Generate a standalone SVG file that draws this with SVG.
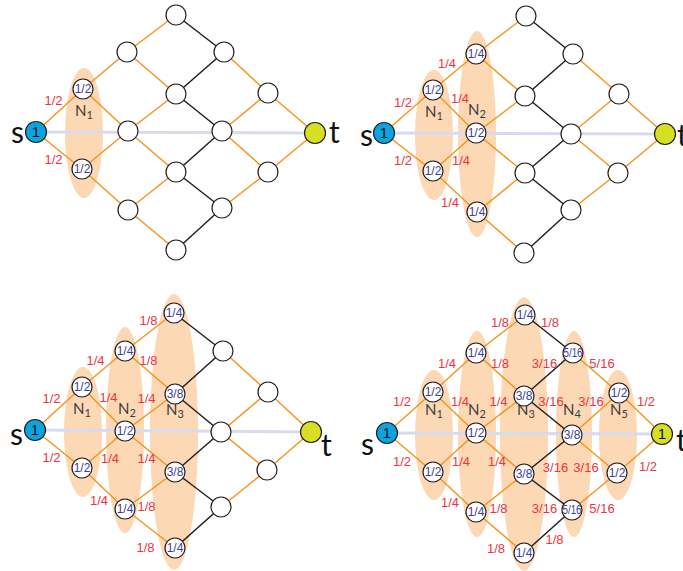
<svg xmlns="http://www.w3.org/2000/svg" width="683" height="571" viewBox="0 0 683 571">
<style>
.reg{fill:#fcd8b4}
.base{stroke:#d8dbee;stroke-width:3}
.o{stroke:#f7941d;stroke-width:1.5}
.k{stroke:#231f20;stroke-width:1.5}
.n{fill:#fff;stroke:#231f20;stroke-width:1.2}
.src{fill:#0aa5e0;stroke:#231f20;stroke-width:1.2}
.snk{fill:#d7df23;stroke:#231f20;stroke-width:1.2}
.nl{font-family:"Liberation Sans",Arial,sans-serif;font-size:12px;fill:#3b40a0;text-anchor:middle}
.one{font-family:"Liberation Sans",Arial,sans-serif;font-size:15px;fill:#111;text-anchor:middle}
.el{font-family:"Liberation Sans",Arial,sans-serif;font-size:13px;fill:#ee3444;text-anchor:middle}
.N{font-family:Lato,"Liberation Sans",sans-serif;font-size:15px;fill:#3d3d3d}
.st{font-family:Lato,"Liberation Sans",sans-serif;font-size:30px;fill:#111}
</style>
<g id="regions">
<ellipse class="reg" cx="84" cy="133" rx="19" ry="65"/>
<ellipse class="reg" cx="434" cy="135" rx="19" ry="65"/>
<ellipse class="reg" cx="477" cy="134" rx="19" ry="103"/>
<ellipse class="reg" cx="83" cy="432" rx="19" ry="65"/>
<ellipse class="reg" cx="125" cy="430" rx="19" ry="103"/>
<ellipse class="reg" cx="174" cy="432" rx="24" ry="138"/>
<ellipse class="reg" cx="434" cy="435" rx="19" ry="65"/>
<ellipse class="reg" cx="477" cy="434" rx="19" ry="103"/>
<ellipse class="reg" cx="524" cy="434" rx="24" ry="137"/>
<ellipse class="reg" cx="574" cy="434" rx="18" ry="103"/>
<ellipse class="reg" cx="618" cy="435" rx="19" ry="65"/>
</g>
<g id="connectors">
<line class="base" x1="36" y1="132" x2="315" y2="133"/>
<line class="base" x1="384" y1="133" x2="665" y2="134"/>
<line class="base" x1="35" y1="430" x2="311" y2="432"/>
<line class="base" x1="387" y1="433" x2="662" y2="434"/>
<!-- panel 1 -->
<line class="o" x1="36" y1="132" x2="83" y2="89"/><line class="o" x1="36" y1="132" x2="82" y2="169"/>
<line class="o" x1="83" y1="89" x2="127" y2="52"/><line class="o" x1="83" y1="89" x2="128" y2="131"/>
<line class="o" x1="82" y1="169" x2="128" y2="131"/><line class="o" x1="82" y1="169" x2="128" y2="210"/>
<line class="o" x1="127" y1="52" x2="176" y2="15"/><line class="o" x1="127" y1="52" x2="176" y2="94"/>
<line class="o" x1="128" y1="131" x2="176" y2="94"/><line class="o" x1="128" y1="131" x2="176" y2="172"/>
<line class="o" x1="128" y1="210" x2="176" y2="172"/><line class="o" x1="128" y1="210" x2="176" y2="250"/>
<line class="k" x1="176" y1="15" x2="224" y2="52"/><line class="k" x1="176" y1="94" x2="224" y2="52"/>
<line class="k" x1="176" y1="94" x2="222" y2="131"/><line class="k" x1="176" y1="172" x2="222" y2="131"/>
<line class="k" x1="176" y1="172" x2="222" y2="208"/><line class="k" x1="176" y1="250" x2="222" y2="208"/>
<line class="o" x1="224" y1="52" x2="268" y2="93"/><line class="o" x1="222" y1="131" x2="268" y2="93"/>
<line class="o" x1="222" y1="131" x2="268" y2="172"/><line class="o" x1="222" y1="208" x2="268" y2="172"/>
<line class="o" x1="268" y1="93" x2="315" y2="133"/><line class="o" x1="268" y1="172" x2="315" y2="133"/>
<!-- panel 2 -->
<line class="o" x1="384" y1="133" x2="433" y2="90"/><line class="o" x1="384" y1="133" x2="433" y2="171"/>
<line class="o" x1="433" y1="90" x2="476" y2="54"/><line class="o" x1="433" y1="90" x2="476" y2="133"/>
<line class="o" x1="433" y1="171" x2="476" y2="133"/><line class="o" x1="433" y1="171" x2="477" y2="212"/>
<line class="o" x1="476" y1="54" x2="526" y2="16"/><line class="o" x1="476" y1="54" x2="525" y2="96"/>
<line class="o" x1="476" y1="133" x2="525" y2="96"/><line class="o" x1="476" y1="133" x2="525" y2="173"/>
<line class="o" x1="477" y1="212" x2="525" y2="173"/><line class="o" x1="477" y1="212" x2="524" y2="253"/>
<line class="k" x1="526" y1="16" x2="573" y2="54"/><line class="k" x1="525" y1="96" x2="573" y2="54"/>
<line class="k" x1="525" y1="96" x2="571" y2="134"/><line class="k" x1="525" y1="173" x2="571" y2="134"/>
<line class="k" x1="525" y1="173" x2="571" y2="210"/><line class="k" x1="524" y1="253" x2="571" y2="210"/>
<line class="o" x1="573" y1="54" x2="619" y2="94"/><line class="o" x1="571" y1="134" x2="619" y2="94"/>
<line class="o" x1="571" y1="134" x2="618" y2="173"/><line class="o" x1="571" y1="210" x2="618" y2="173"/>
<line class="o" x1="619" y1="94" x2="665" y2="134"/><line class="o" x1="618" y1="173" x2="665" y2="134"/>
<!-- panel 3 -->
<line class="o" x1="35" y1="430" x2="82" y2="387"/><line class="o" x1="35" y1="430" x2="82" y2="468"/>
<line class="o" x1="82" y1="387" x2="125" y2="351"/><line class="o" x1="82" y1="387" x2="125" y2="431"/>
<line class="o" x1="82" y1="468" x2="125" y2="431"/><line class="o" x1="82" y1="468" x2="125" y2="509"/>
<line class="o" x1="125" y1="351" x2="174" y2="313"/><line class="o" x1="125" y1="351" x2="175" y2="394"/>
<line class="o" x1="125" y1="431" x2="175" y2="394"/><line class="o" x1="125" y1="431" x2="175" y2="472"/>
<line class="o" x1="125" y1="509" x2="175" y2="472"/><line class="o" x1="125" y1="509" x2="175" y2="548"/>
<line class="k" x1="174" y1="313" x2="223" y2="351"/><line class="k" x1="175" y1="394" x2="223" y2="351"/>
<line class="k" x1="175" y1="394" x2="221" y2="432"/><line class="k" x1="175" y1="472" x2="221" y2="432"/>
<line class="k" x1="175" y1="472" x2="221" y2="507"/><line class="k" x1="175" y1="548" x2="221" y2="507"/>
<line class="o" x1="223" y1="351" x2="268" y2="392"/><line class="o" x1="221" y1="432" x2="268" y2="392"/>
<line class="o" x1="221" y1="432" x2="267" y2="470"/><line class="o" x1="221" y1="507" x2="267" y2="470"/>
<line class="o" x1="268" y1="392" x2="311" y2="432"/><line class="o" x1="267" y1="470" x2="311" y2="432"/>
<!-- panel 4 -->
<line class="o" x1="387" y1="433" x2="433" y2="392"/><line class="o" x1="387" y1="433" x2="433" y2="472"/>
<line class="o" x1="433" y1="392" x2="476" y2="353"/><line class="o" x1="433" y1="392" x2="476" y2="433"/>
<line class="o" x1="433" y1="472" x2="476" y2="433"/><line class="o" x1="433" y1="472" x2="476" y2="512"/>
<line class="o" x1="476" y1="353" x2="525" y2="315"/><line class="o" x1="476" y1="353" x2="524" y2="396"/>
<line class="o" x1="476" y1="433" x2="524" y2="396"/><line class="o" x1="476" y1="433" x2="524" y2="474"/>
<line class="o" x1="476" y1="512" x2="524" y2="474"/><line class="o" x1="476" y1="512" x2="524" y2="553"/>
<line class="k" x1="525" y1="315" x2="573" y2="353"/><line class="k" x1="524" y1="396" x2="573" y2="353"/>
<line class="k" x1="524" y1="396" x2="572" y2="435"/><line class="k" x1="524" y1="474" x2="572" y2="435"/>
<line class="k" x1="524" y1="474" x2="572" y2="510"/><line class="k" x1="524" y1="553" x2="572" y2="510"/>
<line class="o" x1="573" y1="353" x2="619" y2="393"/><line class="o" x1="572" y1="435" x2="619" y2="393"/>
<line class="o" x1="572" y1="435" x2="617" y2="473"/><line class="o" x1="572" y1="510" x2="617" y2="473"/>
<line class="o" x1="619" y1="393" x2="662" y2="434"/><line class="o" x1="617" y1="473" x2="662" y2="434"/>
</g>
<g id="edge-labels">
<text class="el" x="53.5" y="105">1/2</text><text class="el" x="53.5" y="164">1/2</text>
<text class="el" x="403" y="107">1/2</text><text class="el" x="447" y="68">1/4</text><text class="el" x="460" y="103">1/4</text>
<text class="el" x="403" y="165">1/2</text><text class="el" x="461" y="165">1/4</text><text class="el" x="450" y="207">1/4</text>
<text class="el" x="148.5" y="325">1/8</text><text class="el" x="95.5" y="365">1/4</text><text class="el" x="148.5" y="365">1/8</text>
<text class="el" x="51.5" y="403">1/2</text><text class="el" x="108.5" y="402">1/4</text><text class="el" x="146.5" y="403">1/4</text>
<text class="el" x="51.5" y="462">1/2</text><text class="el" x="110" y="463">1/4</text><text class="el" x="146.5" y="463">1/4</text>
<text class="el" x="99" y="505">1/4</text><text class="el" x="146.5" y="511">1/8</text><text class="el" x="145.5" y="552">1/8</text>
<text class="el" x="500" y="327">1/8</text><text class="el" x="550" y="327">1/8</text>
<text class="el" x="447" y="368">1/4</text><text class="el" x="500" y="368">1/8</text><text class="el" x="544.5" y="368">3/16</text><text class="el" x="602" y="368">5/16</text>
<text class="el" x="402" y="406">1/2</text><text class="el" x="460" y="406">1/4</text><text class="el" x="498.5" y="406">1/4</text><text class="el" x="551" y="406">3/16</text><text class="el" x="591" y="406">3/16</text><text class="el" x="646" y="406">1/2</text>
<text class="el" x="402" y="466">1/2</text><text class="el" x="461" y="466">1/4</text><text class="el" x="497" y="466">1/4</text><text class="el" x="555.5" y="472">3/16</text><text class="el" x="586" y="472">3/16</text><text class="el" x="648" y="471">1/2</text>
<text class="el" x="450" y="507">1/4</text><text class="el" x="498.5" y="513">1/8</text><text class="el" x="544.5" y="513">3/16</text><text class="el" x="602" y="513">5/16</text>
<text class="el" x="496" y="553">1/8</text><text class="el" x="554.5" y="544">1/8</text>
</g>
<g id="region-labels">
<text class="N" x="75" y="116">N<tspan font-size="11" dy="3">1</tspan></text>
<text class="N" x="425" y="117">N<tspan font-size="11" dy="3">1</tspan></text>
<text class="N" x="468" y="115">N<tspan font-size="11" dy="3">2</tspan></text>
<text class="N" x="73" y="414">N<tspan font-size="11" dy="3">1</tspan></text>
<text class="N" x="118" y="414">N<tspan font-size="11" dy="3">2</tspan></text>
<text class="N" x="166" y="415">N<tspan font-size="11" dy="3">3</tspan></text>
<text class="N" x="425" y="415">N<tspan font-size="11" dy="3">1</tspan></text>
<text class="N" x="468" y="415">N<tspan font-size="11" dy="3">2</tspan></text>
<text class="N" x="517" y="415">N<tspan font-size="11" dy="3">3</tspan></text>
<text class="N" x="563" y="415">N<tspan font-size="11" dy="3">4</tspan></text>
<text class="N" x="610" y="415">N<tspan font-size="11" dy="3">5</tspan></text>
</g>
<g id="terminal-labels">
<text class="st" x="11" y="143">s</text><text class="st" x="329" y="143">t</text>
<text class="st" x="360" y="146">s</text><text class="st" x="677" y="146">t</text>
<text class="st" x="10" y="445">s</text><text class="st" x="321" y="456">t</text>
<text class="st" x="361" y="455">s</text><text class="st" x="676" y="451">t</text>
</g>
<!-- panel 1 nodes -->
<g id="p1-s"><circle class="src" cx="36" cy="132" r="10.5"/><text class="one" x="36" y="137">1</text></g>
<g id="p1-a1"><circle class="n" cx="83" cy="89" r="10"/><text class="nl" x="83" y="93">1/2</text></g>
<g id="p1-a2"><circle class="n" cx="82" cy="169" r="10"/><text class="nl" x="82" y="173">1/2</text></g>
<g id="p1-b1"><circle class="n" cx="127" cy="52" r="10"/></g>
<g id="p1-b2"><circle class="n" cx="128" cy="131" r="10"/></g>
<g id="p1-b3"><circle class="n" cx="128" cy="210" r="10"/></g>
<g id="p1-c1"><circle class="n" cx="176" cy="15" r="10"/></g>
<g id="p1-c2"><circle class="n" cx="176" cy="94" r="10"/></g>
<g id="p1-c3"><circle class="n" cx="176" cy="172" r="10"/></g>
<g id="p1-c4"><circle class="n" cx="176" cy="250" r="10"/></g>
<g id="p1-d1"><circle class="n" cx="224" cy="52" r="10"/></g>
<g id="p1-d2"><circle class="n" cx="222" cy="131" r="10"/></g>
<g id="p1-d3"><circle class="n" cx="222" cy="208" r="10"/></g>
<g id="p1-e1"><circle class="n" cx="268" cy="93" r="10"/></g>
<g id="p1-e2"><circle class="n" cx="268" cy="172" r="10"/></g>
<g id="p1-t"><circle class="snk" cx="315" cy="133" r="10.5"/></g>
<!-- panel 2 nodes -->
<g id="p2-s"><circle class="src" cx="384" cy="133" r="10.5"/><text class="one" x="384" y="138">1</text></g>
<g id="p2-a1"><circle class="n" cx="433" cy="90" r="10"/><text class="nl" x="433" y="94">1/2</text></g>
<g id="p2-a2"><circle class="n" cx="433" cy="171" r="10"/><text class="nl" x="433" y="175">1/2</text></g>
<g id="p2-b1"><circle class="n" cx="476" cy="54" r="10"/><text class="nl" x="476" y="58">1/4</text></g>
<g id="p2-b2"><circle class="n" cx="476" cy="133" r="10"/><text class="nl" x="476" y="137">1/2</text></g>
<g id="p2-b3"><circle class="n" cx="477" cy="212" r="10"/><text class="nl" x="477" y="216">1/4</text></g>
<g id="p2-c1"><circle class="n" cx="526" cy="16" r="10"/></g>
<g id="p2-c2"><circle class="n" cx="525" cy="96" r="10"/></g>
<g id="p2-c3"><circle class="n" cx="525" cy="173" r="10"/></g>
<g id="p2-c4"><circle class="n" cx="524" cy="253" r="10"/></g>
<g id="p2-d1"><circle class="n" cx="573" cy="54" r="10"/></g>
<g id="p2-d2"><circle class="n" cx="571" cy="134" r="10"/></g>
<g id="p2-d3"><circle class="n" cx="571" cy="210" r="10"/></g>
<g id="p2-e1"><circle class="n" cx="619" cy="94" r="10"/></g>
<g id="p2-e2"><circle class="n" cx="618" cy="173" r="10"/></g>
<g id="p2-t"><circle class="snk" cx="665" cy="134" r="10.5"/></g>
<!-- panel 3 nodes -->
<g id="p3-s"><circle class="src" cx="35" cy="430" r="10.5"/><text class="one" x="35" y="435">1</text></g>
<g id="p3-a1"><circle class="n" cx="82" cy="387" r="10"/><text class="nl" x="82" y="391">1/2</text></g>
<g id="p3-a2"><circle class="n" cx="82" cy="468" r="10"/><text class="nl" x="82" y="472">1/2</text></g>
<g id="p3-b1"><circle class="n" cx="125" cy="351" r="10"/><text class="nl" x="125" y="355">1/4</text></g>
<g id="p3-b2"><circle class="n" cx="125" cy="431" r="10"/><text class="nl" x="125" y="435">1/2</text></g>
<g id="p3-b3"><circle class="n" cx="125" cy="509" r="10"/><text class="nl" x="125" y="513">1/4</text></g>
<g id="p3-c1"><circle class="n" cx="174" cy="313" r="10"/><text class="nl" x="174" y="317">1/4</text></g>
<g id="p3-c2"><circle class="n" cx="175" cy="394" r="10"/><text class="nl" x="175" y="398">3/8</text></g>
<g id="p3-c3"><circle class="n" cx="175" cy="472" r="10"/><text class="nl" x="175" y="476">3/8</text></g>
<g id="p3-c4"><circle class="n" cx="175" cy="548" r="10"/><text class="nl" x="175" y="552">1/4</text></g>
<g id="p3-d1"><circle class="n" cx="223" cy="351" r="10"/></g>
<g id="p3-d2"><circle class="n" cx="221" cy="432" r="10"/></g>
<g id="p3-d3"><circle class="n" cx="221" cy="507" r="10"/></g>
<g id="p3-e1"><circle class="n" cx="268" cy="392" r="10"/></g>
<g id="p3-e2"><circle class="n" cx="267" cy="470" r="10"/></g>
<g id="p3-t"><circle class="snk" cx="311" cy="432" r="10.5"/></g>
<!-- panel 4 nodes -->
<g id="p4-s"><circle class="src" cx="387" cy="433" r="10.5"/><text class="one" x="387" y="438">1</text></g>
<g id="p4-a1"><circle class="n" cx="433" cy="392" r="10"/><text class="nl" x="433" y="396">1/2</text></g>
<g id="p4-a2"><circle class="n" cx="433" cy="472" r="10"/><text class="nl" x="433" y="476">1/2</text></g>
<g id="p4-b1"><circle class="n" cx="476" cy="353" r="10"/><text class="nl" x="476" y="357">1/4</text></g>
<g id="p4-b2"><circle class="n" cx="476" cy="433" r="10"/><text class="nl" x="476" y="437">1/2</text></g>
<g id="p4-b3"><circle class="n" cx="476" cy="512" r="10"/><text class="nl" x="476" y="516">1/4</text></g>
<g id="p4-c1"><circle class="n" cx="525" cy="315" r="10"/><text class="nl" x="525" y="319">1/4</text></g>
<g id="p4-c2"><circle class="n" cx="524" cy="396" r="10"/><text class="nl" x="524" y="400">3/8</text></g>
<g id="p4-c3"><circle class="n" cx="524" cy="474" r="10"/><text class="nl" x="524" y="478">3/8</text></g>
<g id="p4-c4"><circle class="n" cx="524" cy="553" r="10"/><text class="nl" x="524" y="557">1/4</text></g>
<g id="p4-d1"><circle class="n" cx="573" cy="353" r="10"/><text class="nl" x="573" y="357" textLength="19" lengthAdjust="spacingAndGlyphs">5/16</text></g>
<g id="p4-d2"><circle class="n" cx="572" cy="435" r="10"/><text class="nl" x="572" y="439">3/8</text></g>
<g id="p4-d3"><circle class="n" cx="572" cy="510" r="10"/><text class="nl" x="572" y="514" textLength="19" lengthAdjust="spacingAndGlyphs">5/16</text></g>
<g id="p4-e1"><circle class="n" cx="619" cy="393" r="10"/><text class="nl" x="619" y="397">1/2</text></g>
<g id="p4-e2"><circle class="n" cx="617" cy="473" r="10"/><text class="nl" x="617" y="477">1/2</text></g>
<g id="p4-t"><circle class="snk" cx="662" cy="434" r="10.5"/><text class="one" x="662" y="439">1</text></g>
</svg>
